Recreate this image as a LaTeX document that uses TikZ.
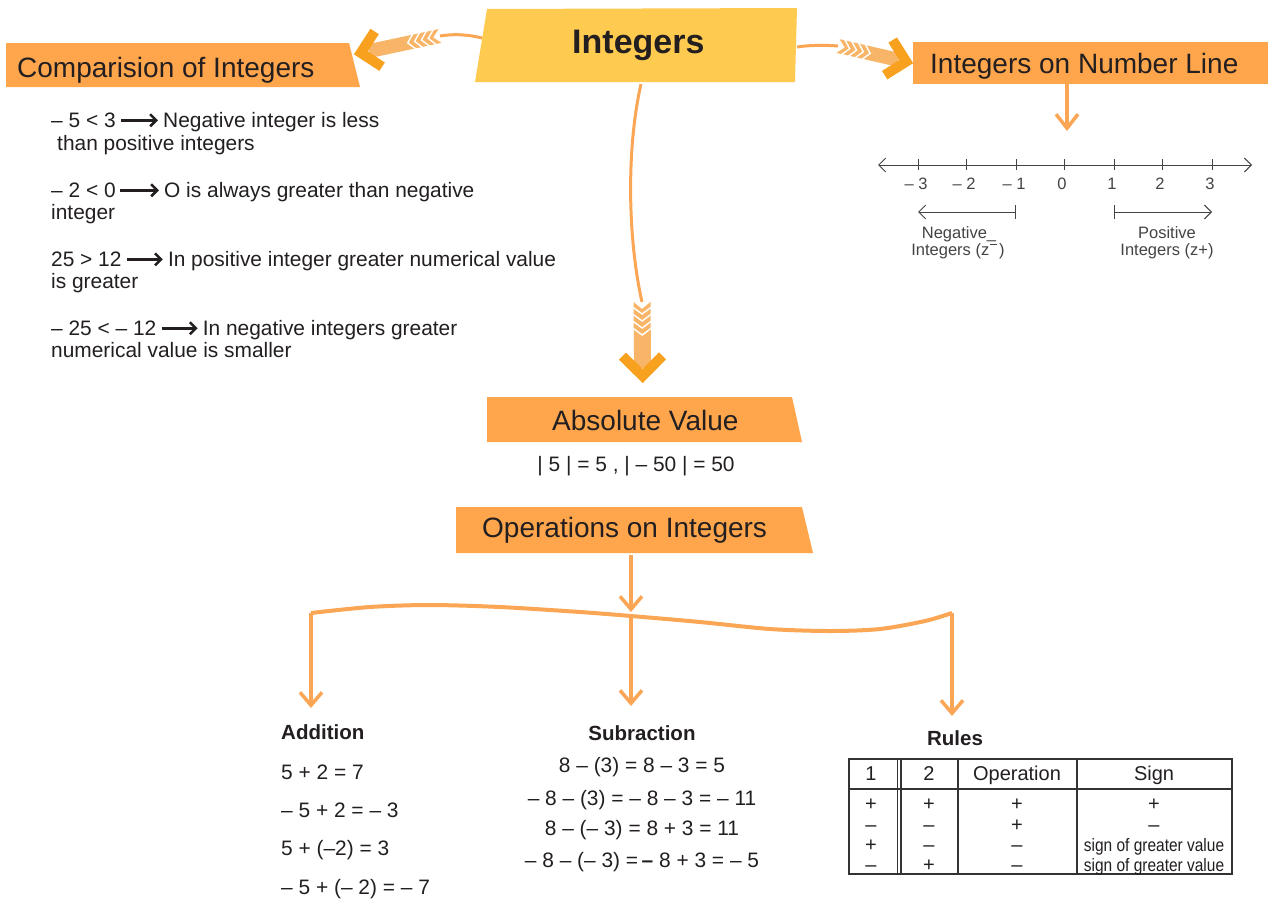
\documentclass[tikz,border=0pt]{standalone}
\usepackage{fontspec}
\usepackage{graphicx}
\setmainfont{Liberation Sans}
\usetikzlibrary{arrows.meta}
\definecolor{hdrc}{HTML}{FFA64D}
\definecolor{ylw}{HTML}{FFCA50}
\definecolor{org}{HTML}{FBA655}
\definecolor{shaftc}{HTML}{F9B567}
\definecolor{headc}{HTML}{F8A11F}
\definecolor{txt}{HTML}{231F20}
\definecolor{nlc}{HTML}{444444}
\newcommand{\rarr}[1]{\tikz[baseline=-0.32em]\draw[line width=2.5pt,-{Straight Barb[length=6pt,width=12pt]}] (0pt,0pt) -- (#1pt,0pt);}
\newcommand{\fletch}[5]{%
\begin{scope}[shift={#1}, rotate=#2]
 \fill[shaftc] (0,-#4/2) -- (#3-14,-#4/2) -- (#3-14,#4/2) -- (0,#4/2) -- (7,0) -- cycle;
 \foreach \f in {12,19,26,33} \draw[white, line width=1.4] (\f-7,-#4/2-1) -- (\f,0) -- (\f-7,#4/2+1);
 \draw[headc, line width=10] (#3-6-#5,-#5) -- (#3-6,0) -- (#3-6-#5,#5);
\end{scope}}
\tikzset{
 hdr/.style={font=\fontsize{28}{32}\selectfont, anchor=base west},
 body/.style={font=\fontsize{20.9}{24}\selectfont, anchor=base west},
 bodyc/.style={font=\fontsize{20.9}{24}\selectfont, anchor=base},
 bld/.style={font=\fontsize{20.5}{24}\selectfont\bfseries, anchor=base},
 nlf/.style={font=\fontsize{16.5}{18}\selectfont, anchor=base, text=nlc},
 th/.style={font=\fontsize{20}{24}\selectfont, anchor=base},
 td/.style={font=\fontsize{20}{22}\selectfont, anchor=base},
 tdn/.style={font=\fontsize{18}{20}\selectfont, anchor=base},
 arr/.style={org, line width=3.5, -{Straight Barb[length=13pt,width=22pt]}},
 nlarr/.style={nlc, line width=1},
 tbl/.style={draw=black!80, line width=1.2}
}
\begin{document}
\begin{tikzpicture}[x=1pt,y=-1pt, every node/.style={inner sep=0pt, text=txt}]
\useasboundingbox (0,0) rectangle (1276,900);
\fill[white] (0,0) rectangle (1276,900);

% ---- header boxes
\fill[ylw] (487,9) -- (797,8) -- (795,82) -- (475,82) -- cycle;
\node[anchor=base west, font=\fontsize{34}{38}\selectfont\bfseries] (int) at (572,53) {Integers};
\coordinate (intL) at (482,38);
\coordinate (intR) at (797,47);
\coordinate (intB) at (641,84);

\fill[hdrc] (6,43) -- (349,43) -- (360,87) -- (6,87) -- cycle;
\node[hdr] (cmp) at (17,77) {Comparision of Integers};

\fill[hdrc] (913,42) rectangle (1268,84);
\node[hdr] (inl) at (930,73) {Integers on Number Line};
\coordinate (inlB) at (1067,84);

\fill[hdrc] (487,397) -- (792,397) -- (802,442) -- (487,442) -- cycle;
\node[hdr] (abs) at (552,430) {Absolute Value};

\fill[hdrc] (456,507) -- (802,507) -- (813,553) -- (456,553) -- cycle;
\node[hdr] (ops) at (482,537) {Operations on Integers};
\coordinate (opsB) at (631,555);

% ---- feathered arrows
\coordinate (la) at (440,36);
\coordinate (ra) at (838,46);
\coordinate (da) at (642,302);
\draw[org, line width=3] (intL) .. controls (466,34) and (452,34) .. (la);
\draw[org, line width=3] (intR) .. controls (810,45) and (825,45) .. (ra);
\draw[org, line width=3] (intB) .. controls (626,150) and (628,240) .. (da);
\fletch{(la)}{192}{87}{14}{18}
\fletch{(ra)}{-12.9}{76}{14}{18}
\fletch{(da)}{-89.5}{80}{17}{20}

% ---- comparison text
\node[body] (c1) at (51,127) {– 5 < 3\hspace{4pt}\rarr{37}\hspace{4pt}Negative integer is less};
\node[body] (c2) at (57,150) {than positive integers};
\node[body] (c3) at (51,197) {– 2 < 0\hspace{3pt}\rarr{39}\hspace{4pt}O is always greater than negative};
\node[body] (c4) at (51,219) {integer};
\node[body] (c5) at (51,266) {25 > 12\hspace{4pt}\rarr{36}\hspace{4pt}In positive integer greater numerical value};
\node[body] (c6) at (51,288) {is greater};
\node[body] (c7) at (51,335) {– 25 < – 12\hspace{4pt}\rarr{36}\hspace{4pt}In negative integers greater};
\node[body] (c8) at (51,357) {numerical value is smaller};

% ---- number line
\draw[org, line width=3.5, -{Straight Barb[length=14pt,width=22pt]}] (inlB) -- (1067,131);
\coordinate (axL) at (878,165);
\coordinate (axR) at (1252,165);
\draw[nlarr, {Straight Barb[length=7pt,width=14pt]}-{Straight Barb[length=7pt,width=14pt]}] (axL) -- (axR);
\foreach \x/\l/\n in {918/{– 3}/m3, 966/{– 2}/m2, 1016/{– 1}/m1, 1064/0/z0, 1114/1/p1, 1162/2/p2, 1212/3/p3} {
  \draw[nlarr] (\x,159) -- (\x,170);
  \node[nlf] (\n) at (\x-2,189) {\l};
}
\coordinate (ng1) at (918,212);
\coordinate (ng2) at (1016,212);
\coordinate (ps1) at (1114,212);
\coordinate (ps2) at (1212,212);
\draw[nlarr, {Straight Barb[length=7pt,width=14pt]}-{Bar[width=14pt]}] (ng1) -- (ng2);
\draw[nlarr, {Bar[width=14pt]}-{Straight Barb[length=7pt,width=14pt]}] (ps1) -- (ps2);
\node[nlf] (neg1) at (959,238) {Negative\_};
\node[nlf] (neg2) at (958,255) {Integers (z\kern0.05em\raisebox{0.62em}{\rule{0.4em}{0.06em}}\kern0.15em)};
\node[nlf] (pos1) at (1167,238) {Positive};
\node[nlf] (pos2) at (1167,255) {Integers (z+)};

% ---- absolute value
\node[bodyc] (absx) at (636,471) {| 5 | = 5 , | – 50 | = 50};

% ---- operations tree
\coordinate (wl) at (311,613);
\coordinate (wm) at (631,616);
\coordinate (wr) at (952,613);
\draw[arr] (opsB) -- (631,612);
\draw[org, line width=4] plot[smooth, tension=0.5] coordinates {(311,613) (370,607) (430,605) (500,607) (580,612) (631,616) (700,622) (770,629) (830,631) (880,629) (925,621) (952,613)};
\draw[arr] (wl) -- (311,708);
\draw[arr] (wm) -- (631,706);
\draw[arr] (wr) -- (952,716);

% ---- addition
\node[bld, anchor=base west] (add) at (281,739) {Addition};
\node[body] (a1) at (281,779) {5 + 2 = 7};
\node[body] (a2) at (281,817) {– 5 + 2 = – 3};
\node[body] (a3) at (281,855) {5 + (–2) = 3};
\node[body] (a4) at (281,894) {– 5 + (– 2) = – 7};

% ---- subtraction
\node[bld] (sub) at (642,740) {Subraction};
\node[bodyc] (s1) at (642,772) {8 – (3) = 8 – 3 = 5};
\node[bodyc] (s2) at (642,805) {– 8 – (3) = – 8 – 3 = – 11};
\node[bodyc] (s3) at (642,835) {8 – (– 3) = 8 + 3 = 11};
\node[bodyc] (s4) at (642,867) {– 8 – (– 3) =\,\textbf{–} 8 + 3 = – 5};

% ---- rules table
\node[bld] (rules) at (955,745) {Rules};
\draw[tbl] (849,759) rectangle (1232,874);
\draw[tbl] (849,789) -- (1232,789);
\draw[tbl] (897.5,759) -- (897.5,874);
\draw[tbl] (901,759) -- (901,874);
\draw[tbl] (958,759) -- (958,874);
\draw[tbl] (1077,759) -- (1077,874);
\node[th] (h1) at (871,780) {1};
\node[th] (h2) at (929,780) {2};
\node[th] (h3) at (1017,780) {Operation};
\node[th] (h4) at (1154,780) {Sign};
\foreach \y/\a/\b/\c/\d [count=\i] in {810/+/+/+/+, 831/–/–/+/–, 851.5/+/–/–/{\fontsize{18}{20}\selectfont\scalebox{0.86}[1]{sign of greater value}}, 871.5/–/+/–/{\fontsize{18}{20}\selectfont\scalebox{0.86}[1]{sign of greater value}}} {
  \node[td] (r\i a) at (871,\y) {\a};
  \node[td] (r\i b) at (929,\y) {\b};
  \node[td] (r\i c) at (1017,\y) {\c};
  \node[td] (r\i d) at (1154,\y) {\d};
}
\end{tikzpicture}
\end{document}
